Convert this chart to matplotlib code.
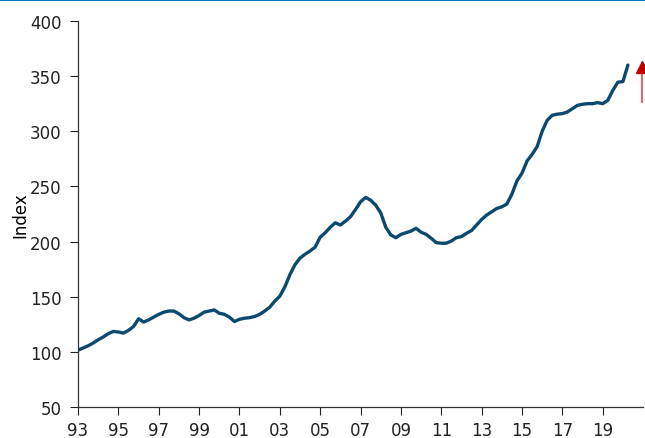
import numpy as np
import matplotlib
matplotlib.use("Agg")
import matplotlib.pyplot as plt
from matplotlib.lines import Line2D

# Quarterly index values, 1993Q1 - 2020Q2
index_values = [
    101.5, 103.5, 105.5, 108.0,   # 1993
    111.0, 113.5, 116.5, 118.5,   # 1994
    118.0, 117.0, 119.5, 123.0,   # 1995
    130.0, 127.0, 129.0, 131.5,   # 1996
    134.0, 136.0, 137.0, 137.0,   # 1997
    134.5, 131.0, 129.0, 130.5,   # 1998
    133.0, 136.0, 137.0, 138.0,   # 1999
    135.0, 134.0, 131.5, 127.5,   # 2000
    129.5, 130.5, 131.0, 132.0,   # 2001
    134.0, 137.0, 140.5, 146.0,   # 2002
    150.5, 159.0, 170.0, 179.0,   # 2003
    185.0, 188.5, 191.5, 195.0,   # 2004
    204.0, 208.0, 213.0, 217.0,   # 2005
    215.0, 218.5, 222.5, 229.0,   # 2006
    236.0, 240.0, 237.5, 233.0,   # 2007
    226.0, 213.0, 206.0, 203.5,   # 2008
    206.5, 208.0, 209.5, 212.0,   # 2009
    208.5, 206.5, 203.0, 199.0,   # 2010
    198.5, 198.5, 200.5, 203.5,   # 2011
    204.5, 207.5, 210.0, 215.0,   # 2012
    220.0, 224.0, 227.0, 230.0,   # 2013
    231.5, 234.0, 243.0, 255.0,   # 2014
    262.0, 273.0, 279.0, 286.0,   # 2015
    300.0, 310.0, 314.5, 315.5,   # 2016
    316.0, 317.5, 320.5, 323.5,   # 2017
    324.5, 325.0, 325.0, 326.0,   # 2018
    325.0, 328.0, 337.0, 344.5,   # 2019
    345.0, 360.0,                 # 2020
]
start_year = 1993
tick_years = list(range(1993, 2020, 2))
tick_labels = [f"{y % 100:02d}" for y in tick_years]
y_ticks = [50, 100, 150, 200, 250, 300, 350, 400]

# arrow marker at the right edge (data coords)
arrow_x = 2020.94
arrow_y0 = 326.5
arrow_y1 = 363.5

quarters = start_year + np.arange(len(index_values)) / 4.0

fig = plt.figure(figsize=(6.45, 4.39), dpi=100)
ax = fig.add_axes([0.121, 0.0706, 0.876, 0.8794])

ax.plot(quarters, index_values, color="#0b4a6e", linewidth=2.4,
        solid_joinstyle="round", solid_capstyle="round")

ax.set_xlim(1993, 2021)
ax.set_ylim(50, 400)
ax.set_xticks(tick_years)
ax.set_xticklabels(tick_labels)
ax.set_yticks(y_ticks)
ax.set_ylabel("Index", fontsize=12, labelpad=0)

ax.tick_params(axis="both", direction="out", length=6, width=0.8,
               labelsize=12, colors="#222222")
ax.tick_params(axis="y", pad=6)
ax.tick_params(axis="x", pad=4)
for side in ["top", "right"]:
    ax.spines[side].set_visible(False)
for side in ["left", "bottom"]:
    ax.spines[side].set_color("#333333")
    ax.spines[side].set_linewidth(0.9)

# red arrow: light shaft, dark head
ax.plot([arrow_x, arrow_x], [arrow_y0, arrow_y1 - 9], color="#e06a6a",
        linewidth=1.5, clip_on=False)
ax.plot([arrow_x], [arrow_y1 - 5], marker="^", markersize=8,
        color="#c00000", clip_on=False, linestyle="none")

# thin blue rule along the top of the figure
fig.add_artist(Line2D([0, 1], [0.997, 0.997], transform=fig.transFigure,
                      color="#0077bb", linewidth=1.5))

fig.savefig("out.png", dpi=100)
